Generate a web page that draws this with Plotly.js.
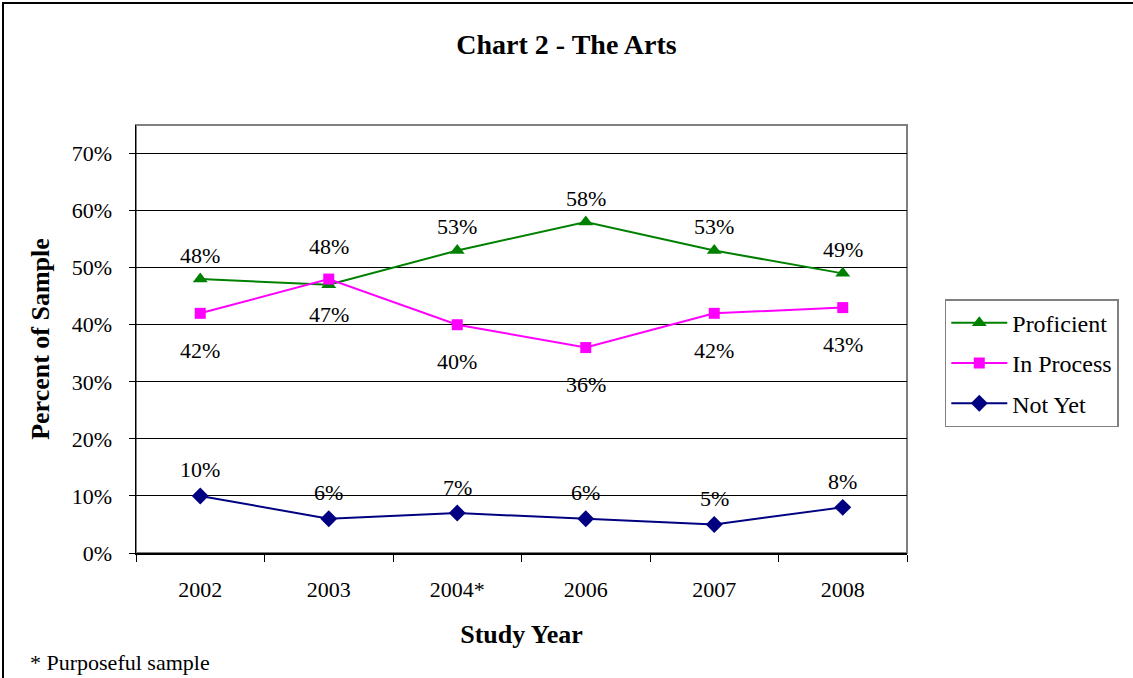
<!DOCTYPE html>
<html lang="en">
<head>
  <meta charset="UTF-8">
  <title>Chart 2 - The Arts</title>
  <script src="https://cdn.plot.ly/plotly-3.0.1.min.js"></script>
  <style>
    body { margin: 0; background: white; }
    #wrap { position: relative; width: 1133px; height: 678px; }
    #chart { width: 1133px; height: 678px; }
    /* outer frame, only left and top edges are visible in the original */
    #frame {
      position: absolute; left: 2px; top: 2px; width: 1131px; height: 676px;
      border-left: 2px solid black; border-top: 2px solid black;
      box-sizing: border-box; pointer-events: none;
    }
  </style>
</head>
<body>
  <div id="wrap">
    <div id="chart"></div>
    <div id="frame"></div>
  </div>

  <script>
    // Data
    const years = ["2002", "2003", "2004*", "2006", "2007", "2008"];
    const proficient = [48, 47, 53, 58, 53, 49];
    const inProcess = [42, 48, 40, 36, 42, 43];
    const notYet = [10, 6, 7, 6, 5, 8];

    const serif = "Liberation Serif, Times New Roman, serif";

    const makeTrace = (name, values, color, symbol, size) => ({
      x: years, y: values, name: name, legendgroup: name,
      type: "scatter", mode: "lines+markers",
      line: { color: color, width: 2 },
      marker: { color: color, symbol: symbol, size: size },
      hoverinfo: "skip"
    });

    const traces = [
      makeTrace("Proficient", proficient, "#008000", "triangle-up", 13),
      makeTrace("In Process", inProcess, "#ff00ff", "square", 11),
      makeTrace("Not Yet", notYet, "#000080", "diamond", 13)
    ];

    // Data labels: put the label on the side away from the neighbouring line
    // (x given as category index, a string like "2002" would be read as index 2002)
    const labels = [];
    const addLabels = (values, other, up, down) => {
      values.forEach((v, i) => {
        const above = other ? v >= other[i] : true;
        labels.push({
          x: i, y: v, xref: "x", yref: "y",
          text: v + "%", showarrow: false,
          yshift: above ? up : down,
          font: { family: serif, size: 22, color: "black" }
        });
      });
    };
    addLabels(proficient, inProcess, 24, -30);
    addLabels(inProcess, proficient, 33, -37);
    addLabels(notYet, null, 26, 0);

    labels.push({
      xref: "paper", yref: "paper", x: -0.14, y: -0.255,
      xanchor: "left", yanchor: "middle",
      text: "* Purposeful sample", showarrow: false,
      font: { family: serif, size: 22, color: "black" }
    });

    const layout = {
      width: 1133, height: 678,
      margin: { l: 136, r: 226, t: 125, b: 125 },
      paper_bgcolor: "white", plot_bgcolor: "white",
      font: { family: serif, color: "black", size: 22 },
      title: {
        text: "<b>Chart 2 - The Arts</b>",
        font: { family: serif, size: 28, color: "black" },
        x: 0.5, xanchor: "center", y: 0.935, yanchor: "middle"
      },
      xaxis: {
        type: "category", range: [-0.5, years.length - 0.5], tickson: "boundaries",
        ticks: "outside", ticklen: 7, tickcolor: "black", tickwidth: 1,
        showline: true, linecolor: "black", linewidth: 1.5,
        showgrid: false, zeroline: false, tickangle: 0,
        ticklabelstandoff: 16,
        tickfont: { family: serif, size: 22, color: "black" },
        title: { text: "<b>Study Year</b>", font: { family: serif, size: 26, color: "black" }, standoff: 24 }
      },
      yaxis: {
        range: [0, 75], dtick: 10, ticksuffix: "%",
        ticks: "outside", ticklen: 6, tickcolor: "black", tickwidth: 1,
        showline: true, linecolor: "black", linewidth: 1.5,
        showgrid: true, gridcolor: "black", gridwidth: 1, zeroline: false,
        ticklabelstandoff: 12,
        tickfont: { family: serif, size: 22, color: "black" },
        title: { text: "<b>Percent of Sample</b>", font: { family: serif, size: 26, color: "black" }, standoff: 14 }
      },
      shapes: [{
        type: "rect", xref: "paper", yref: "paper", x0: 0, x1: 1, y0: 0, y1: 1,
        line: { color: "#808080", width: 2 }, layer: "below"
      }],
      legend: {
        x: 1.049, y: 0.593, xanchor: "left", yanchor: "top",
        bordercolor: "#808080", borderwidth: 1.5, bgcolor: "white",
        font: { family: serif, size: 24, color: "black" },
        traceorder: "grouped", tracegroupgap: 6, itemwidth: 56
      },
      annotations: labels
    };

    Plotly.newPlot("chart", traces, layout, { displayModeBar: false, staticPlot: true });
  </script>
</body>
</html>
